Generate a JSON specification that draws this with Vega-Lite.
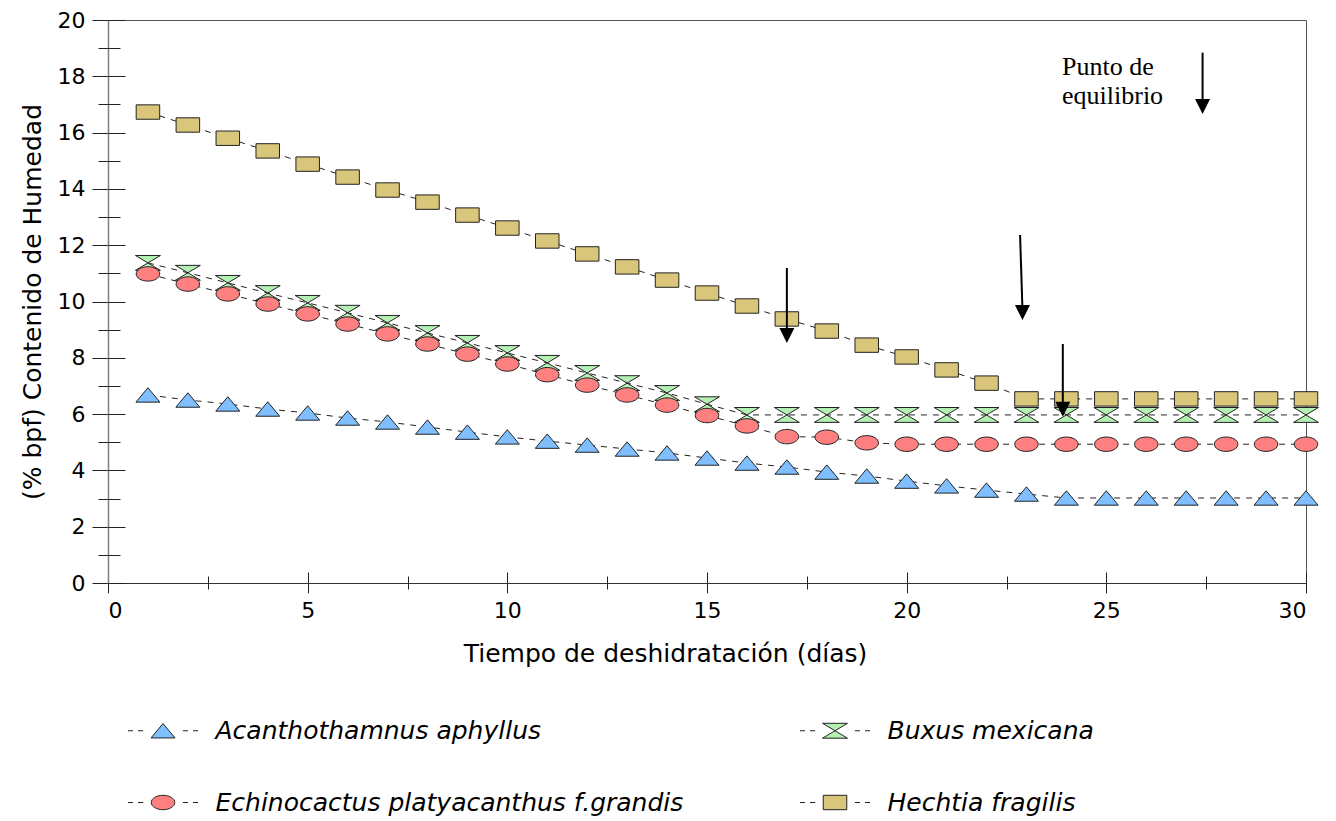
{
  "$schema": "https://vega.github.io/schema/vega-lite/v6.json",
  "width": 1198,
  "height": 563,
  "autosize": "none",
  "padding": {"left": 108, "top": 20, "right": 30, "bottom": 238},
  "background": "white",
  "config": {
    "view": {"stroke": "#555", "strokeWidth": 1},
    "font": "DejaVu Sans",
    "axis": {"grid": false, "tickColor": "#222", "tickWidth": 1, "labelColor": "black", "titleColor": "black", "labelFont": "DejaVu Sans", "titleFont": "DejaVu Sans", "titleFontWeight": "normal"}
  },
  "datasets": {
    "series": [
      {"species": "Acanthothamnus aphyllus", "day": 1, "value": 6.68},
      {"species": "Acanthothamnus aphyllus", "day": 2, "value": 6.5},
      {"species": "Acanthothamnus aphyllus", "day": 3, "value": 6.36},
      {"species": "Acanthothamnus aphyllus", "day": 4, "value": 6.18},
      {"species": "Acanthothamnus aphyllus", "day": 5, "value": 6.04},
      {"species": "Acanthothamnus aphyllus", "day": 6, "value": 5.86},
      {"species": "Acanthothamnus aphyllus", "day": 7, "value": 5.72},
      {"species": "Acanthothamnus aphyllus", "day": 8, "value": 5.54},
      {"species": "Acanthothamnus aphyllus", "day": 9, "value": 5.36},
      {"species": "Acanthothamnus aphyllus", "day": 10, "value": 5.19},
      {"species": "Acanthothamnus aphyllus", "day": 11, "value": 5.04},
      {"species": "Acanthothamnus aphyllus", "day": 12, "value": 4.9},
      {"species": "Acanthothamnus aphyllus", "day": 13, "value": 4.76},
      {"species": "Acanthothamnus aphyllus", "day": 14, "value": 4.62},
      {"species": "Acanthothamnus aphyllus", "day": 15, "value": 4.44},
      {"species": "Acanthothamnus aphyllus", "day": 16, "value": 4.26},
      {"species": "Acanthothamnus aphyllus", "day": 17, "value": 4.12},
      {"species": "Acanthothamnus aphyllus", "day": 18, "value": 3.94},
      {"species": "Acanthothamnus aphyllus", "day": 19, "value": 3.8},
      {"species": "Acanthothamnus aphyllus", "day": 20, "value": 3.62},
      {"species": "Acanthothamnus aphyllus", "day": 21, "value": 3.45},
      {"species": "Acanthothamnus aphyllus", "day": 22, "value": 3.3},
      {"species": "Acanthothamnus aphyllus", "day": 23, "value": 3.16},
      {"species": "Acanthothamnus aphyllus", "day": 24, "value": 3.02},
      {"species": "Acanthothamnus aphyllus", "day": 25, "value": 3.02},
      {"species": "Acanthothamnus aphyllus", "day": 26, "value": 3.02},
      {"species": "Acanthothamnus aphyllus", "day": 27, "value": 3.02},
      {"species": "Acanthothamnus aphyllus", "day": 28, "value": 3.02},
      {"species": "Acanthothamnus aphyllus", "day": 29, "value": 3.02},
      {"species": "Acanthothamnus aphyllus", "day": 30, "value": 3.02},
      {"species": "Buxus mexicana", "day": 1, "value": 11.37},
      {"species": "Buxus mexicana", "day": 2, "value": 11.02},
      {"species": "Buxus mexicana", "day": 3, "value": 10.66},
      {"species": "Buxus mexicana", "day": 4, "value": 10.3},
      {"species": "Buxus mexicana", "day": 5, "value": 9.95},
      {"species": "Buxus mexicana", "day": 6, "value": 9.6},
      {"species": "Buxus mexicana", "day": 7, "value": 9.24},
      {"species": "Buxus mexicana", "day": 8, "value": 8.88},
      {"species": "Buxus mexicana", "day": 9, "value": 8.53},
      {"species": "Buxus mexicana", "day": 10, "value": 8.17},
      {"species": "Buxus mexicana", "day": 11, "value": 7.82},
      {"species": "Buxus mexicana", "day": 12, "value": 7.46},
      {"species": "Buxus mexicana", "day": 13, "value": 7.1},
      {"species": "Buxus mexicana", "day": 14, "value": 6.75},
      {"species": "Buxus mexicana", "day": 15, "value": 6.35},
      {"species": "Buxus mexicana", "day": 16, "value": 5.97},
      {"species": "Buxus mexicana", "day": 17, "value": 5.97},
      {"species": "Buxus mexicana", "day": 18, "value": 5.97},
      {"species": "Buxus mexicana", "day": 19, "value": 5.97},
      {"species": "Buxus mexicana", "day": 20, "value": 5.97},
      {"species": "Buxus mexicana", "day": 21, "value": 5.97},
      {"species": "Buxus mexicana", "day": 22, "value": 5.97},
      {"species": "Buxus mexicana", "day": 23, "value": 5.97},
      {"species": "Buxus mexicana", "day": 24, "value": 5.97},
      {"species": "Buxus mexicana", "day": 25, "value": 5.97},
      {"species": "Buxus mexicana", "day": 26, "value": 5.97},
      {"species": "Buxus mexicana", "day": 27, "value": 5.97},
      {"species": "Buxus mexicana", "day": 28, "value": 5.97},
      {"species": "Buxus mexicana", "day": 29, "value": 5.97},
      {"species": "Buxus mexicana", "day": 30, "value": 5.97},
      {"species": "Echinocactus platyacanthus f.grandis", "day": 1, "value": 10.98},
      {"species": "Echinocactus platyacanthus f.grandis", "day": 2, "value": 10.62},
      {"species": "Echinocactus platyacanthus f.grandis", "day": 3, "value": 10.27},
      {"species": "Echinocactus platyacanthus f.grandis", "day": 4, "value": 9.91},
      {"species": "Echinocactus platyacanthus f.grandis", "day": 5, "value": 9.56},
      {"species": "Echinocactus platyacanthus f.grandis", "day": 6, "value": 9.2},
      {"species": "Echinocactus platyacanthus f.grandis", "day": 7, "value": 8.85},
      {"species": "Echinocactus platyacanthus f.grandis", "day": 8, "value": 8.49},
      {"species": "Echinocactus platyacanthus f.grandis", "day": 9, "value": 8.13},
      {"species": "Echinocactus platyacanthus f.grandis", "day": 10, "value": 7.78},
      {"species": "Echinocactus platyacanthus f.grandis", "day": 11, "value": 7.4},
      {"species": "Echinocactus platyacanthus f.grandis", "day": 12, "value": 7.03},
      {"species": "Echinocactus platyacanthus f.grandis", "day": 13, "value": 6.68},
      {"species": "Echinocactus platyacanthus f.grandis", "day": 14, "value": 6.32},
      {"species": "Echinocactus platyacanthus f.grandis", "day": 15, "value": 5.95},
      {"species": "Echinocactus platyacanthus f.grandis", "day": 16, "value": 5.58},
      {"species": "Echinocactus platyacanthus f.grandis", "day": 17, "value": 5.2},
      {"species": "Echinocactus platyacanthus f.grandis", "day": 18, "value": 5.18},
      {"species": "Echinocactus platyacanthus f.grandis", "day": 19, "value": 4.98},
      {"species": "Echinocactus platyacanthus f.grandis", "day": 20, "value": 4.93},
      {"species": "Echinocactus platyacanthus f.grandis", "day": 21, "value": 4.93},
      {"species": "Echinocactus platyacanthus f.grandis", "day": 22, "value": 4.93},
      {"species": "Echinocactus platyacanthus f.grandis", "day": 23, "value": 4.93},
      {"species": "Echinocactus platyacanthus f.grandis", "day": 24, "value": 4.93},
      {"species": "Echinocactus platyacanthus f.grandis", "day": 25, "value": 4.93},
      {"species": "Echinocactus platyacanthus f.grandis", "day": 26, "value": 4.93},
      {"species": "Echinocactus platyacanthus f.grandis", "day": 27, "value": 4.93},
      {"species": "Echinocactus platyacanthus f.grandis", "day": 28, "value": 4.93},
      {"species": "Echinocactus platyacanthus f.grandis", "day": 29, "value": 4.93},
      {"species": "Echinocactus platyacanthus f.grandis", "day": 30, "value": 4.93},
      {"species": "Hechtia fragilis", "day": 1, "value": 16.73},
      {"species": "Hechtia fragilis", "day": 2, "value": 16.27},
      {"species": "Hechtia fragilis", "day": 3, "value": 15.8},
      {"species": "Hechtia fragilis", "day": 4, "value": 15.35},
      {"species": "Hechtia fragilis", "day": 5, "value": 14.88},
      {"species": "Hechtia fragilis", "day": 6, "value": 14.42},
      {"species": "Hechtia fragilis", "day": 7, "value": 13.96},
      {"species": "Hechtia fragilis", "day": 8, "value": 13.53},
      {"species": "Hechtia fragilis", "day": 9, "value": 13.07},
      {"species": "Hechtia fragilis", "day": 10, "value": 12.61},
      {"species": "Hechtia fragilis", "day": 11, "value": 12.15},
      {"species": "Hechtia fragilis", "day": 12, "value": 11.69},
      {"species": "Hechtia fragilis", "day": 13, "value": 11.23},
      {"species": "Hechtia fragilis", "day": 14, "value": 10.76},
      {"species": "Hechtia fragilis", "day": 15, "value": 10.3},
      {"species": "Hechtia fragilis", "day": 16, "value": 9.84},
      {"species": "Hechtia fragilis", "day": 17, "value": 9.38},
      {"species": "Hechtia fragilis", "day": 18, "value": 8.95},
      {"species": "Hechtia fragilis", "day": 19, "value": 8.45},
      {"species": "Hechtia fragilis", "day": 20, "value": 8.03},
      {"species": "Hechtia fragilis", "day": 21, "value": 7.57},
      {"species": "Hechtia fragilis", "day": 22, "value": 7.1},
      {"species": "Hechtia fragilis", "day": 23, "value": 6.54},
      {"species": "Hechtia fragilis", "day": 24, "value": 6.54},
      {"species": "Hechtia fragilis", "day": 25, "value": 6.54},
      {"species": "Hechtia fragilis", "day": 26, "value": 6.54},
      {"species": "Hechtia fragilis", "day": 27, "value": 6.54},
      {"species": "Hechtia fragilis", "day": 28, "value": 6.54},
      {"species": "Hechtia fragilis", "day": 29, "value": 6.54},
      {"species": "Hechtia fragilis", "day": 30, "value": 6.54}
    ],
    "arrows": [
      {"x": 17.0, "xtip": 17.0, "ytop": 11.19, "yend": 8.9, "ytip": 8.53},
      {"x": 22.84, "xtip": 22.9, "ytop": 12.36, "yend": 9.7, "ytip": 9.34},
      {"x": 23.91, "xtip": 23.91, "ytop": 8.49, "yend": 6.3, "ytip": 5.91},
      {"x": 27.41, "xtip": 27.41, "ytop": 18.84, "yend": 17.0, "ytip": 16.66}
    ],
    "note": [
      {"x": 23.89, "y": 18.05, "label": "Punto de\nequilibrio"}
    ]
  },
  "layer": [
    {
      "data": {"name": "series"},
      "mark": {"type": "line", "stroke": "#222", "strokeWidth": 1, "strokeDash": [6, 6]},
      "encoding": {
        "x": {
          "field": "day", "type": "quantitative",
          "scale": {"domain": [0, 30], "nice": false, "zero": false},
          "axis": {
            "orient": "bottom", "values": [0, 5, 10, 15, 20, 25, 30], "tickSize": 10,
            "domainColor": "#333", "domainWidth": 1, "labelFontSize": 22, "labelPadding": 7,
            "title": "Tiempo de deshidratación (días)", "titleFontSize": 25,
            "titleX": 557, "titleY": 78, "titleAlign": "center", "titleBaseline": "alphabetic"
          }
        },
        "y": {
          "field": "value", "type": "quantitative",
          "scale": {"domain": [0, 20], "nice": false},
          "axis": {
            "orient": "left", "values": [0, 2, 4, 6, 8, 10, 12, 14, 16, 18, 20], "tickSize": 16,
            "domainColor": "#808080", "domainWidth": 1.5, "labelFontSize": 22, "labelPadding": 7,
            "title": "(% bpf) Contenido de Humedad", "titleFontSize": 25,
            "titleX": -76, "titleBaseline": "middle"
          }
        },
        "detail": {"field": "species"}
      }
    },
    {
      "data": {"name": "series"},
      "mark": {"type": "point", "filled": true, "size": 576, "stroke": "#222", "strokeWidth": 1, "opacity": 1},
      "encoding": {
        "x": {"field": "day", "type": "quantitative",
          "axis": {"orient": "bottom", "values": [0, 5, 10, 15, 20, 25, 30], "tickSize": -11, "labels": false, "domain": false, "title": null}},
        "y": {"field": "value", "type": "quantitative",
          "axis": {"orient": "left", "values": [0, 2, 4, 6, 8, 10, 12, 14, 16, 18, 20], "tickSize": -17, "labels": false, "domain": false, "title": null}},
        "shape": {
          "field": "species", "type": "nominal",
          "scale": {
            "domain": ["Acanthothamnus aphyllus", "Buxus mexicana", "Echinocactus platyacanthus f.grandis", "Hechtia fragilis"],
            "range": [
              "M-1,0.6L1,0.6L0,-0.6Z",
              "M-1.04,-0.62L1.04,-0.62L-1.04,0.62L1.04,0.62Z",
              "M-0.98,0A0.98,0.6 0 1,0 0.98,0A0.98,0.6 0 1,0 -0.98,0Z",
              "M-0.98,-0.6L0.98,-0.6L0.98,0.6L-0.98,0.6Z"
            ]
          },
          "legend": null
        },
        "fill": {
          "field": "species", "type": "nominal",
          "scale": {
            "domain": ["Acanthothamnus aphyllus", "Buxus mexicana", "Echinocactus platyacanthus f.grandis", "Hechtia fragilis"],
            "range": ["#80BFFF", "#B4F0B4", "#FF8080", "#D9C67A"]
          },
          "legend": null
        }
      }
    },
    {
      "data": {"name": "series"},
      "mark": {"type": "point", "filled": true, "size": 576, "strokeWidth": 1, "opacity": 0},
      "encoding": {
        "x": {"field": "day", "type": "quantitative", "axis": null},
        "y": {"field": "value", "type": "quantitative", "axis": null},
        "shape": {
          "field": "species", "type": "nominal",
          "scale": {
            "domain": ["Acanthothamnus aphyllus", "Echinocactus platyacanthus f.grandis", "Buxus mexicana", "Hechtia fragilis"],
            "range": [
              "M-2.92,0L-2.5,0M-2.08,0L-1.66,0M1.66,0L2.08,0M2.5,0L2.92,0M-1,0.6L1,0.6L0,-0.6Z",
              "M-2.92,0L-2.5,0M-2.08,0L-1.66,0M1.66,0L2.08,0M2.5,0L2.92,0M-0.98,0A0.98,0.6 0 1,0 0.98,0A0.98,0.6 0 1,0 -0.98,0Z",
              "M-2.92,0L-2.5,0M-2.08,0L-1.66,0M1.66,0L2.08,0M2.5,0L2.92,0M-1.04,-0.62L1.04,-0.62L-1.04,0.62L1.04,0.62Z",
              "M-2.92,0L-2.5,0M-2.08,0L-1.66,0M1.66,0L2.08,0M2.5,0L2.92,0M-0.98,-0.6L0.98,-0.6L0.98,0.6L-0.98,0.6Z"
            ]
          },
          "legend": {
            "title": null, "orient": "none", "legendX": 19, "legendY": 698, "padding": 0,
            "columns": 2, "columnPadding": 113, "rowPadding": 46,
            "symbolSize": 576, "symbolOffset": 23.5, "labelOffset": 40, "symbolOpacity": 1,
            "symbolStrokeWidth": 1,
            "labelFont": "DejaVu Sans", "labelFontSize": 25, "labelFontStyle": "italic", "labelColor": "black", "labelLimit": 0
          }
        },
        "fill": {
          "field": "species", "type": "nominal",
          "scale": {
            "domain": ["Acanthothamnus aphyllus", "Echinocactus platyacanthus f.grandis", "Buxus mexicana", "Hechtia fragilis"],
            "range": ["#80BFFF", "#FF8080", "#B4F0B4", "#D9C67A"]
          },
          "legend": {
            "title": null, "orient": "none", "legendX": 19, "legendY": 698, "padding": 0,
            "columns": 2, "columnPadding": 113, "rowPadding": 46,
            "symbolSize": 576, "symbolOffset": 23.5, "labelOffset": 40, "symbolOpacity": 1,
            "symbolStrokeWidth": 1,
            "labelFont": "DejaVu Sans", "labelFontSize": 25, "labelFontStyle": "italic", "labelColor": "black", "labelLimit": 0
          }
        },
        "stroke": {
          "field": "species", "type": "nominal",
          "scale": {
            "domain": ["Acanthothamnus aphyllus", "Echinocactus platyacanthus f.grandis", "Buxus mexicana", "Hechtia fragilis"],
            "range": ["#222222", "#222222", "#222222", "#222222"]
          },
          "legend": {
            "title": null, "orient": "none", "legendX": 19, "legendY": 698, "padding": 0,
            "columns": 2, "columnPadding": 113, "rowPadding": 46,
            "symbolSize": 576, "symbolOffset": 23.5, "labelOffset": 40, "symbolOpacity": 1,
            "symbolStrokeWidth": 1,
            "labelFont": "DejaVu Sans", "labelFontSize": 25, "labelFontStyle": "italic", "labelColor": "black", "labelLimit": 0
          }
        }
      }
    },
    {
      "data": {"name": "arrows"},
      "mark": {"type": "rule", "stroke": "black", "strokeWidth": 2},
      "encoding": {
        "x": {"field": "x", "type": "quantitative",
          "axis": {"orient": "bottom", "values": [2.5, 7.5, 12.5, 17.5, 22.5, 27.5], "tickSize": 6, "labels": false, "domain": false, "title": null}},
        "x2": {"field": "xtip"},
        "y": {"field": "ytop", "type": "quantitative",
          "axis": {"orient": "left", "values": [1, 3, 5, 7, 9, 11, 13, 15, 17, 19], "tickSize": 10, "labels": false, "domain": false, "title": null}},
        "y2": {"field": "yend"}
      }
    },
    {
      "data": {"name": "arrows"},
      "mark": {"type": "point", "filled": true, "size": 400, "fill": "black", "strokeWidth": 0, "opacity": 1, "shape": "M-0.75,-1.5L0.75,-1.5L0,0Z"},
      "encoding": {
        "x": {"field": "xtip", "type": "quantitative",
          "axis": {"orient": "bottom", "values": [2.5, 7.5, 12.5, 17.5, 22.5, 27.5], "tickSize": -7, "labels": false, "domain": false, "title": null}},
        "y": {"field": "ytip", "type": "quantitative",
          "axis": {"orient": "left", "values": [1, 3, 5, 7, 9, 11, 13, 15, 17, 19], "tickSize": -12, "labels": false, "domain": false, "title": null}}
      }
    },
    {
      "data": {"name": "note"},
      "mark": {"type": "text", "font": "Liberation Serif", "fontSize": 26, "align": "left", "baseline": "alphabetic", "lineBreak": "\n", "lineHeight": 29, "color": "black"},
      "encoding": {
        "x": {"field": "x", "type": "quantitative", "axis": null},
        "y": {"field": "y", "type": "quantitative", "axis": null},
        "text": {"field": "label"}
      }
    }
  ],
  "resolve": {
    "axis": {"x": "independent", "y": "independent"},
    "scale": {"shape": "independent", "fill": "independent", "stroke": "independent"}
  }
}
